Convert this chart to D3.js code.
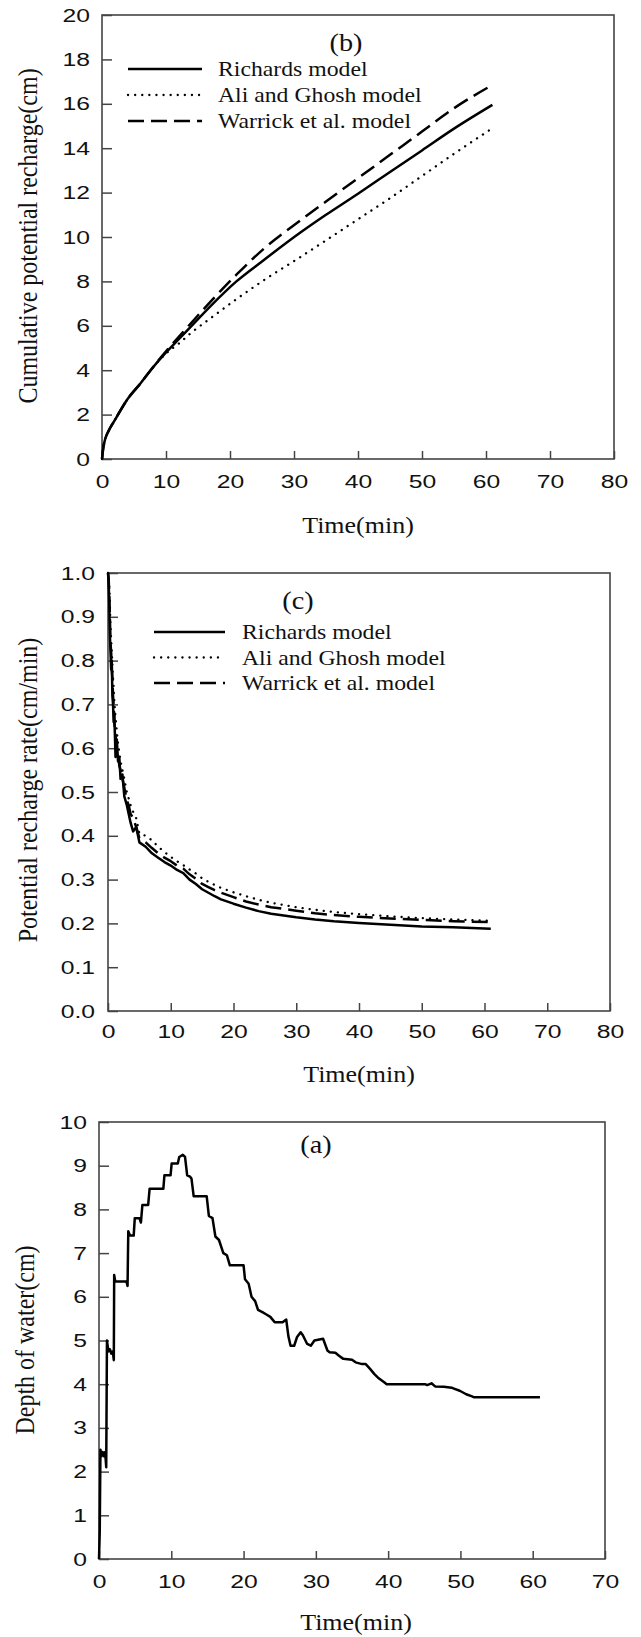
<!DOCTYPE html>
<html>
<head>
<meta charset="utf-8">
<script src="https://cdn.jsdelivr.net/npm/d3@7"></script>
<style>
  body { margin: 0; background: #fff; }
  .tick text { font-family: "Liberation Sans", Arial, sans-serif; font-size: 19px; fill: #111; }
  .tick line { stroke: #444; stroke-width: 1.5; }
  .domain { display: none; }
  .lbl { font-family: "Liberation Serif", "Times New Roman", serif; fill: #111; }
</style>
</head>
<body>
<div id="graph"></div>
<script>
// ---- data ----

// (b) cumulative potential recharge (cm)
var timeB     = [0, 0.2, 0.5, 1, 2, 2.5, 4, 6, 7.6, 10, 12, 14, 17, 21, 25, 31, 35, 40, 45, 50, 55, 61];
var richardsB = [0, 0.5, 0.9, 1.25, 1.75, 2.0, 2.7, 3.4, 4.0, 4.8, 5.4, 6.0, 6.9, 8.0, 8.9, 10.2, 11.0, 11.95, 12.93, 13.9, 14.88, 15.95];
var aliB      = [0, 0.5, 0.9, 1.25, 1.75, 2.0, 2.7, 3.4, 4.0, 4.75, 5.2, 5.7, 6.35, 7.2, 8.0, 9.1, 9.85, 10.8, 11.75, 12.75, 13.75, 14.9];
var warrickB  = [0, 0.5, 0.9, 1.25, 1.75, 2.0, 2.7, 3.4, 4.0, 4.85, 5.5, 6.15, 7.1, 8.3, 9.4, 10.75, 11.6, 12.65, 13.7, 14.75, 15.8, 16.85];

// (c) potential recharge rate (cm/min)
var timeC     = [0, 0.1, 0.2, 0.3, 0.4, 0.5, 0.6, 0.7, 0.8, 0.9, 1.0, 1.2, 1.4, 1.6, 1.8, 2.0, 2.3, 2.6, 3.0, 3.3, 3.6, 4.0, 4.5, 5, 6, 7, 8, 9, 10, 11, 12, 13, 14, 15, 16, 17, 18, 20, 22, 24, 26, 28, 30, 33, 36, 40, 45, 50, 55, 61];
var richardsC = [1.0, 0.98, 0.93, 0.86, 0.82, 0.78, 0.8, 0.72, 0.7, 0.66, 0.68, 0.58, 0.62, 0.57, 0.58, 0.53, 0.54, 0.49, 0.47, 0.45, 0.43, 0.41, 0.42, 0.385, 0.375, 0.36, 0.35, 0.34, 0.332, 0.322, 0.315, 0.3, 0.29, 0.278, 0.27, 0.262, 0.255, 0.245, 0.236, 0.228, 0.222, 0.218, 0.214, 0.209, 0.205, 0.201, 0.197, 0.193, 0.191, 0.188];
var aliC      = [1.0, 1.0, 0.97, 0.93, 0.88, 0.85, 0.82, 0.79, 0.76, 0.74, 0.71, 0.67, 0.64, 0.61, 0.59, 0.57, 0.55, 0.53, 0.5, 0.485, 0.47, 0.455, 0.44, 0.405, 0.4, 0.39, 0.375, 0.363, 0.352, 0.342, 0.333, 0.323, 0.314, 0.303, 0.295, 0.288, 0.281, 0.271, 0.262, 0.254, 0.247, 0.242, 0.237, 0.231, 0.226, 0.221, 0.216, 0.212, 0.209, 0.206];
var warrickC  = [1.0, 0.99, 0.95, 0.9, 0.84, 0.82, 0.78, 0.76, 0.72, 0.7, 0.66, 0.63, 0.6, 0.59, 0.56, 0.55, 0.53, 0.51, 0.48, 0.47, 0.45, 0.44, 0.42, 0.395, 0.385, 0.372, 0.36, 0.35, 0.342, 0.332, 0.325, 0.312, 0.302, 0.29, 0.283, 0.276, 0.27, 0.26, 0.25, 0.243, 0.237, 0.233, 0.229, 0.223, 0.219, 0.215, 0.211, 0.208, 0.205, 0.203];

// (a) depth of water (cm)
var timeA  = [0, 0.1, 0.2, 0.35, 0.5, 0.7, 0.85, 1.0, 1.1, 1.3, 1.5, 1.7, 1.9, 2.05, 2.1, 2.25, 3.8, 3.95, 4.05, 4.3, 4.8, 4.95, 5.6, 5.8, 6.0, 6.8, 7.0, 8.9, 9.05, 9.9, 10.05, 10.9, 11.1, 11.6, 11.9, 12.2, 12.6, 12.8, 13.1, 14.9, 15.2, 15.7, 16.1, 16.6, 17.2, 17.7, 18.1, 20.0, 20.2, 20.7, 21.1, 21.6, 22.0, 22.6, 23.1, 23.7, 24.3, 25.4, 25.9, 26.2, 26.5, 27.0, 27.4, 27.9, 28.2, 28.8, 29.3, 29.8, 31.0, 31.6, 31.9, 32.7, 33.2, 33.8, 35.0, 35.5, 36.4, 36.9, 37.5, 38.1, 38.6, 39.5, 39.8, 45.1, 45.4, 46.0, 46.5, 47.7, 48.8, 49.1, 49.9, 50.8, 51.6, 51.9, 61.0];
var depthA = [0, 0.6, 2.5, 2.35, 2.45, 2.35, 2.45, 2.1, 5.0, 4.75, 4.8, 4.7, 4.75, 4.55, 6.5, 6.35, 6.35, 6.25, 7.5, 7.4, 7.4, 7.8, 7.8, 7.7, 8.1, 8.1, 8.47, 8.47, 8.78, 8.78, 9.05, 9.05, 9.2, 9.25, 9.2, 8.78, 8.75, 8.7, 8.3, 8.3, 7.85, 7.8, 7.38, 7.3, 7.0, 6.95, 6.72, 6.72, 6.4, 6.3, 6.0, 5.9, 5.7, 5.65, 5.6, 5.54, 5.42, 5.42, 5.48, 5.1, 4.88, 4.88, 5.08, 5.19, 5.12, 4.92, 4.88, 5.0, 5.04, 4.77, 4.73, 4.72, 4.65, 4.58, 4.56, 4.5, 4.46, 4.46, 4.35, 4.23, 4.15, 4.04, 4.0, 4.0, 3.98, 4.02, 3.95, 3.94, 3.92, 3.9, 3.85, 3.77, 3.72, 3.7, 3.7];

var legendNames = ["Richards model", "Ali and Ghosh model", "Warrick et al. model"];
var dashes = [null, "0.1,7", "16,7"];

// the scanned figure is stretched sideways a bit
var SX = 1.13, SXT = 1.3;

var svg = d3.select("#graph")
  .append("svg")
    .attr("width", 641)
    .attr("height", 1637);

function panel(o) {
  var g = svg.append("g");
  var x = d3.scaleLinear().domain(o.xDomain).range([o.left, o.right]);
  var y = d3.scaleLinear().domain(o.yDomain).range([o.bottom, o.top]);

  // x axis, ticks pointing inward
  g.append("g")
    .attr("transform", "translate(0," + o.bottom + ")")
    .call(d3.axisBottom(x).tickValues(o.xTicks).tickSizeInner(-8).tickSizeOuter(0).tickPadding(o.xPad))
    .selectAll("text").attr("transform", "scale(" + SXT + ",1)");

  // y axis
  g.append("g")
    .attr("transform", "translate(" + o.left + ",0)")
    .call(d3.axisLeft(y).tickValues(o.yTicks).tickSizeInner(-10).tickSizeOuter(0).tickPadding(o.yPad).tickFormat(o.yFmt))
    .selectAll("text")
      .attr("x", -o.yPad / SXT)
      .attr("transform", "scale(" + SXT + ",1)");

  // frame
  g.append("rect")
    .attr("x", o.left).attr("y", o.top)
    .attr("width", o.right - o.left).attr("height", o.bottom - o.top)
    .attr("fill", "none").attr("stroke", "#444").attr("stroke-width", 1.6);

  // curves
  o.series.forEach(function(s, i) {
    g.append("path")
      .datum(d3.zip(o.time, s))
      .attr("fill", "none")
      .attr("stroke", "#000")
      .attr("stroke-width", i === 1 ? 2.3 : 2.5)
      .attr("stroke-linecap", i === 1 ? "round" : "butt")
      .attr("stroke-linejoin", "round")
      .attr("stroke-dasharray", o.series.length > 1 ? dashes[i] : null)
      .attr("d", d3.line()
        .curve(o.smooth ? d3.curveMonotoneX : d3.curveLinear)
        .x(function(d) { return x(d[0]); })
        .y(function(d) { return y(d[1]); }));
  });

  // axis titles
  g.append("text").attr("class", "lbl")
    .attr("text-anchor", "middle").attr("font-size", 23)
    .attr("transform", "translate(" + o.xTitle[0] + "," + o.xTitle[1] + ") scale(" + SX + ",1)")
    .text("Time(min)");
  g.append("text").attr("class", "lbl")
    .attr("text-anchor", "middle").attr("font-size", 24)
    .attr("transform", "translate(" + o.yTitle[0] + "," + o.yTitle[1] + ") rotate(-90) scale(1," + SX + ")")
    .text(o.yLabel);

  // panel tag
  g.append("text").attr("class", "lbl")
    .attr("text-anchor", "middle").attr("font-size", 25)
    .attr("transform", "translate(" + o.tag[0] + "," + o.tag[1] + ") scale(" + SX + ",1)")
    .text(o.tagText);

  // legend
  if (o.legend) {
    legendNames.forEach(function(name, i) {
      var ly = o.legend.y + i * o.legend.step;
      g.append("line")
        .attr("x1", o.legend.x1).attr("x2", o.legend.x2)
        .attr("y1", ly).attr("y2", ly)
        .attr("stroke", "#000")
        .attr("stroke-width", i === 1 ? 2.3 : 2.5)
        .attr("stroke-linecap", i === 1 ? "round" : "butt")
        .attr("stroke-dasharray", dashes[i]);
      g.append("text").attr("class", "lbl")
        .attr("font-size", 21)
        .attr("transform", "translate(" + o.legend.tx + "," + (ly + 7) + ") scale(" + SX + ",1)")
        .text(name);
    });
  }
}

// (b)
panel({
  left: 102, right: 614, top: 15, bottom: 459,
  xDomain: [0, 80], yDomain: [0, 20],
  xTicks: d3.range(0, 81, 10), yTicks: d3.range(0, 21, 2),
  xPad: 16, yPad: 12, yFmt: d3.format("d"),
  time: timeB, series: [richardsB, aliB, warrickB], smooth: true,
  xTitle: [358, 533], yTitle: [37, 236], yLabel: "Cumulative potential recharge(cm)",
  tag: [346, 51], tagText: "(b)",
  legend: { x1: 128, x2: 202, tx: 218, y: 69, step: 26 }
});

// (c)
panel({
  left: 108, right: 610, top: 573, bottom: 1011,
  xDomain: [0, 80], yDomain: [0, 1],
  xTicks: d3.range(0, 81, 10), yTicks: d3.range(0, 11).map(function(d) { return d / 10; }),
  xPad: 14, yPad: 13, yFmt: d3.format(".1f"),
  time: timeC, series: [richardsC, aliC, warrickC], smooth: false,
  xTitle: [359, 1082], yTitle: [37, 790], yLabel: "Potential recharge rate(cm/min)",
  tag: [298, 609], tagText: "(c)",
  legend: { x1: 154, x2: 225, tx: 242, y: 632, step: 25.5 }
});

// (a)
panel({
  left: 99, right: 605, top: 1122, bottom: 1559,
  xDomain: [0, 70], yDomain: [0, 10],
  xTicks: d3.range(0, 71, 10), yTicks: d3.range(0, 11, 1),
  xPad: 16, yPad: 12, yFmt: d3.format("d"),
  time: timeA, series: [depthA], smooth: false,
  xTitle: [356, 1630], yTitle: [34, 1340], yLabel: "Depth of water(cm)",
  tag: [316, 1153], tagText: "(a)",
  legend: null
});
</script>
</body>
</html>
